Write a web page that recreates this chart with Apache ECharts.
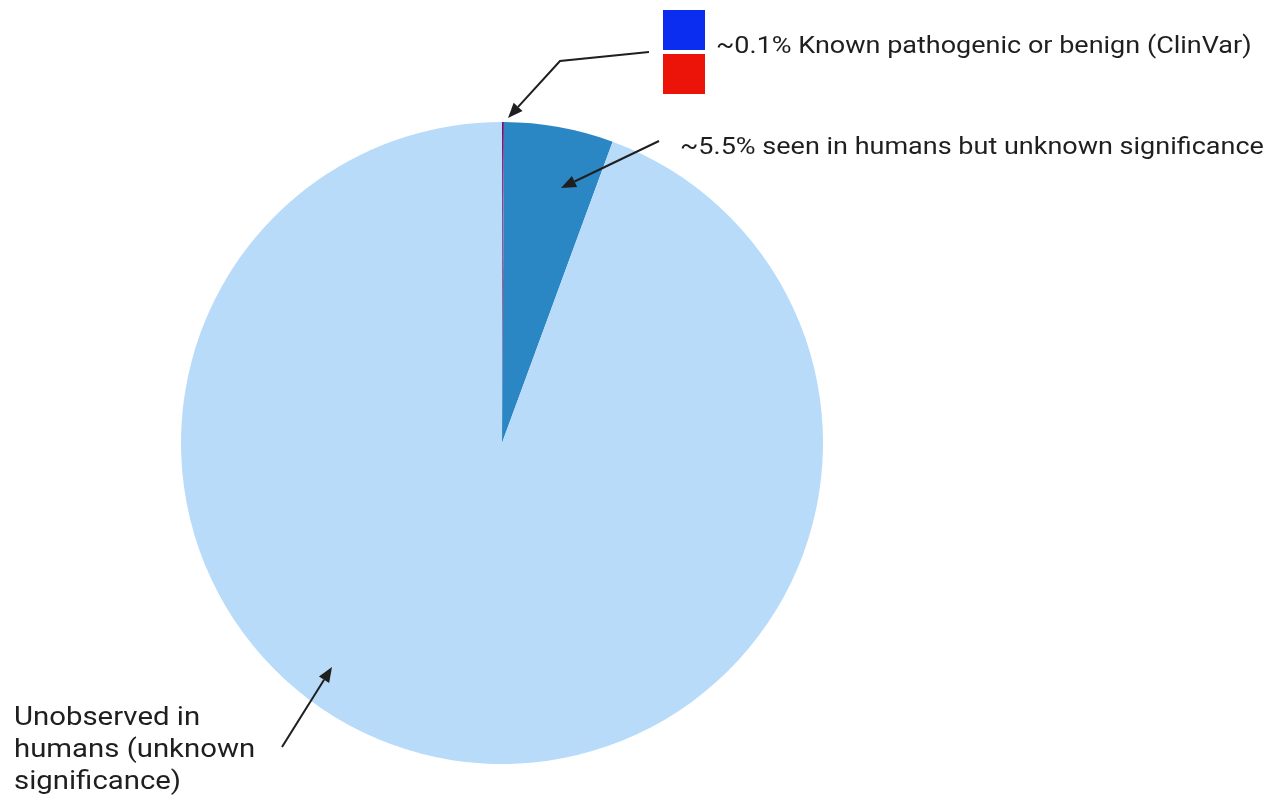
<!DOCTYPE html>
<html>
<head>
<meta charset="utf-8">
<script src="https://cdn.jsdelivr.net/npm/echarts@6/dist/echarts.min.js"></script>
<style>
  html, body { margin: 0; padding: 0; background: #ffffff; }
  #chart { width: 1270px; height: 804px; }
</style>
</head>
<body>
<div id="chart"></div>
<script>
// Share of possible missense variants by what is known about them (%)
const categories = ['Known pathogenic (ClinVar)', 'Known benign (ClinVar)', 'Seen in humans, unknown significance', 'Unobserved in humans'];
const shares = [0.05, 0.05, 5.5, 94.4];
const colors = ['#0a2df0', '#ec1408', '#2b87c4', '#b8dbf9'];

const clinvarText = '~0.1% Known pathogenic or benign (ClinVar)';
const seenText = '~5.5% seen in humans but unknown significance';
const unobservedText = 'Unobserved in\nhumans (unknown\nsignificance)';

const FONT = 'Roboto, "Noto Sans", sans-serif';
const INK = '#1f1f1f';
const WIDEN = 1.174; // horizontal stretch for the wide label lettering

// A straight or bent line ending in a filled arrowhead at its last point
function arrow(points) {
  const n = points.length;
  const [x1, y1] = points[n - 2];
  const [x2, y2] = points[n - 1];
  const a = Math.atan2(y2 - y1, x2 - x1);
  const len = 15, half = 6;
  const bx = x2 - len * Math.cos(a), by = y2 - len * Math.sin(a);
  const px = -Math.sin(a) * half, py = Math.cos(a) * half;
  const shaft = points.slice(0, n - 1).concat([[bx, by]]);
  return [
    { type: 'polyline', silent: true, z: 100, shape: { points: shaft }, style: { stroke: INK, lineWidth: 2, fill: null } },
    { type: 'polygon', silent: true, z: 100, shape: { points: [[x2, y2], [bx + px, by + py], [bx - px, by - py]] }, style: { fill: INK } }
  ];
}

function label(text, x, y, size, extra) {
  return {
    type: 'text', silent: true, z: 100, x, y, scaleX: WIDEN,
    style: Object.assign({ text, font: size + 'px ' + FONT, fill: INK, verticalAlign: 'middle', align: 'left' }, extra || {})
  };
}

const chart = echarts.init(document.getElementById('chart'), null, { renderer: 'canvas' });

chart.setOption({
  animation: false,
  backgroundColor: '#ffffff',
  legend: {
    data: categories.slice(0, 2),
    orient: 'vertical',
    left: 663,
    top: 10,
    itemWidth: 42,
    itemHeight: 40,
    itemGap: 4,
    icon: 'rect',
    selectedMode: false,
    formatter: () => '',
    textStyle: { fontSize: 1 },
    padding: 0
  },
  series: [{
    type: 'pie',
    center: [502, 443],
    radius: 321,
    startAngle: 90,
    clockwise: true,
    avoidLabelOverlap: false,
    label: { show: false },
    labelLine: { show: false },
    emphasis: { disabled: true },
    itemStyle: { borderWidth: 0 },
    data: categories.map((name, i) => ({ name, value: shares[i], itemStyle: { color: colors[i] } }))
  }],
  graphic: [
    label(clinvarText, 716, 47, 23),
    label(seenText, 680, 148, 23),
    label(unobservedText, 14, 751, 25, { lineHeight: 32 }),
    ...arrow([[649, 52], [560, 61], [508, 118]]),
    ...arrow([[659, 141], [561, 188]]),
    ...arrow([[282, 747], [332, 667]])
  ]
});
</script>
</body>
</html>
